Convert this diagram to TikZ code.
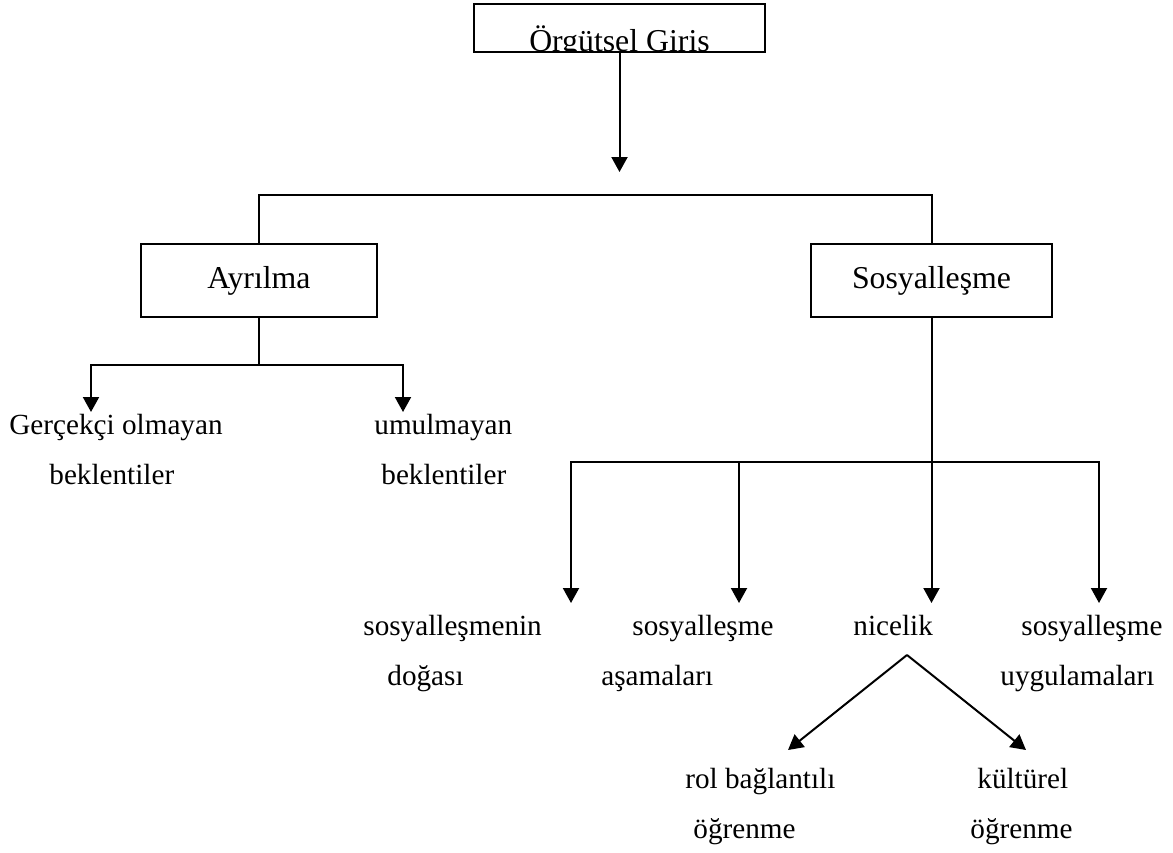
\documentclass[tikz,border=0pt]{standalone}
\usepackage{fontspec}
\setmainfont{Liberation Serif}
\usetikzlibrary{arrows.meta}

\begin{document}
\begin{tikzpicture}[x=0.5pt,y=-0.5pt,
  paths/.style={-{Triangle[length=7.5pt,width=8pt]}, line width=1pt},
  links/.style={line width=1pt},
  boxes/.style={draw, line width=1pt, inner sep=0pt, font=\fontsize{15.9pt}{25pt}\selectfont},
  labels/.style={anchor=base west, align=left, inner sep=0pt, font=\fontsize{14.6pt}{25pt}\selectfont}]

 \useasboundingbox (0,0) rectangle (1173,852);

 \node [boxes, minimum width=145.5pt, minimum height=24pt,
     path picture={\node (giris_text) [anchor=base, inner sep=0pt]
       at ([yshift=-11.5pt]path picture bounding box.center) {Örgütsel Giris};}]
     (giris) at (619.5,28) {};

 \node [boxes, minimum width=118pt, minimum height=36.5pt] (ayrilma) at (259,280.5)
     {Ayrılma};

 \node [boxes, minimum width=120.5pt, minimum height=36.5pt] (sosyal) at (931.5,280.5)
     {Sosyalleşme};

 % base of a two-line label is its second line
 \node [labels] (gercekci) at (9,484)
     {Gerçekçi olmayan\\\hspace*{20pt}beklentiler};

 \node [labels] (umulmayan) at (374,484)
     {umulmayan\\\hspace*{3.5pt}beklentiler};

 \node [labels] (dogasi) at (363,685)
     {sosyalleşmenin\\\hspace*{12pt}doğası};

 \node [labels] (asamalari) at (601,685)
     {\hspace*{15.5pt}sosyalleşme\\aşamaları};

 \node [labels] (nicelik) at (853,635)
     {nicelik};

 \node [labels] (uygulamalari) at (1000,685)
     {\hspace*{10.5pt}sosyalleşme\\uygulamaları};

 \node [labels] (rol_ogrenme) at (685,838)
     {rol bağlantılı\\\hspace*{4pt}öğrenme};

 \node [labels] (kultur_ogrenme) at (970,838)
     {\hspace*{3.5pt}kültürel\\öğrenme};


 \coordinate (g_tip) at (619.5,172);
 \coordinate (a_left) at (91,412);
 \coordinate (a_right) at (403,412);
 \coordinate (s_1) at (571,603);
 \coordinate (s_2) at (739,603);
 \coordinate (s_3) at (931.5,603);
 \coordinate (s_4) at (1099,603);
 \coordinate (n_top) at (907,655);
 \coordinate (n_left) at (788,750);
 \coordinate (n_right) at (1026,750);


 \draw [paths] (giris.south) -- (g_tip);
 \draw [links] (ayrilma.north) -- ++(0,-48) -| (sosyal.north);

 \draw [paths] (ayrilma.south) -- ++(0,47) -| (a_left);
 \draw [paths] (ayrilma.south) -- ++(0,47) -| (a_right);

 \foreach \tip in {s_1,s_2,s_3,s_4}
   \draw [paths] (sosyal.south) -- ++(0,144) -| (\tip);

 \draw [paths] (n_top) -- (n_left);
 \draw [paths] (n_top) -- (n_right);


\end{tikzpicture}
\end{document}
